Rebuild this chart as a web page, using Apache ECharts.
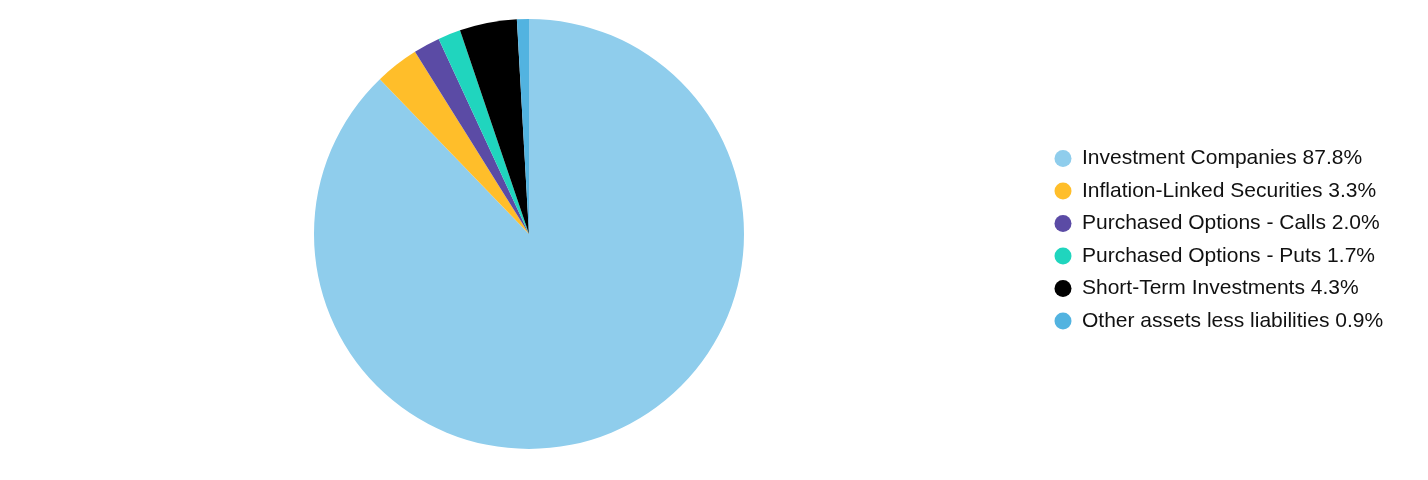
<!DOCTYPE html>
<html lang="en" style="height: 100%">
<head>
	<meta charset="utf-8">
	<title>Portfolio allocation</title>
	<script src="https://cdn.jsdelivr.net/npm/echarts@6/dist/echarts.min.js"></script>
</head>
<body style="height: 100%; margin: 0; background: #fff">
<div id="container" style="width: 1428px; height: 480px"></div>
<script type="text/javascript">
	// holdings and their share of net assets (%)
	var categories = [
		'Investment Companies',
		'Inflation-Linked Securities',
		'Purchased Options - Calls',
		'Purchased Options - Puts',
		'Short-Term Investments',
		'Other assets less liabilities'
	];
	var shares = [87.8, 3.3, 2.0, 1.7, 4.3, 0.9];
	var colors = ['#8fcdec', '#ffbe2a', '#5b4ba5', '#20d5be', '#000000', '#52b3e0'];

	var pieData = [];
	for (var i = 0; i < categories.length; i++) {
		pieData.push({ value: shares[i], name: categories[i], itemStyle: { color: colors[i] } });
	}

	var myChart = echarts.init(document.getElementById('container'), null, { renderer: 'canvas' });

	var option = {
		animation: false,
		legend: {
			orient: 'vertical',
			left: 1054.5,
			top: 148,
			padding: 0,
			icon: 'circle',
			itemWidth: 17,
			itemHeight: 17,
			itemGap: 11.5,
			textStyle: {
				fontFamily: '"Liberation Sans"',
				fontSize: 21,
				color: '#111',
				padding: [0, 0, 0, 5.5]
			},
			formatter: function (name) {
				var idx = categories.indexOf(name);
				return name + ' ' + shares[idx].toFixed(1) + '%';
			}
		},
		series: [
			{
				type: 'pie',
				center: [529, 234],
				radius: [0, 215],
				startAngle: 90,
				clockwise: true,
				label: { show: false },
				labelLine: { show: false },
				itemStyle: { borderWidth: 0 },
				emphasis: { disabled: true },
				data: pieData
			}
		]
	};

	myChart.setOption(option);
</script>
</body>
</html>
